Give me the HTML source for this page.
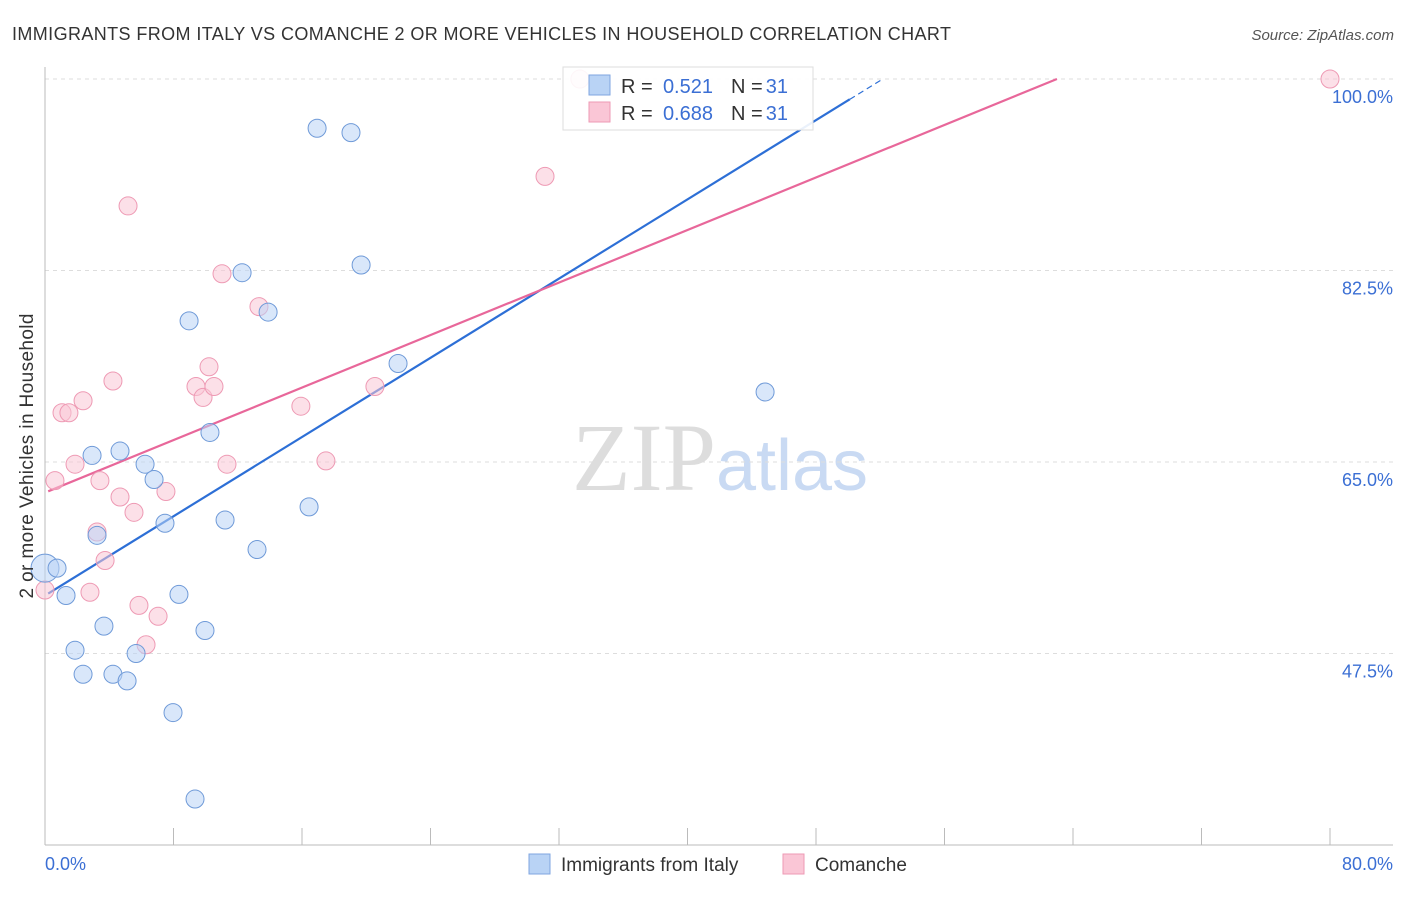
<!DOCTYPE html>
<html><head><meta charset="utf-8"><style>
body{margin:0;background:#fff;font-family:"Liberation Sans",sans-serif}
svg text{font-family:"Liberation Sans",sans-serif}
</style></head><body>
<svg id="chart" width="1406" height="892" xmlns="http://www.w3.org/2000/svg">
<text x="12" y="40" font-size="18" fill="#333" textLength="939" lengthAdjust="spacing">IMMIGRANTS FROM ITALY VS COMANCHE 2 OR MORE VEHICLES IN HOUSEHOLD CORRELATION CHART</text>
<text x="1394" y="40" font-size="15" fill="#555" font-style="italic" text-anchor="end">Source: ZipAtlas.com</text>
<text x="720" y="490" font-size="96" text-anchor="middle"><tspan fill="#ddd" font-family="Liberation Serif">ZIP</tspan><tspan fill="#c9daf3" font-size="72">atlas</tspan></text>
<g id="grid"></g><g id="axes"></g><g id="lines"></g><g id="pts"></g>
<text transform="translate(33,456) rotate(-90)" font-size="19" fill="#333" text-anchor="middle" textLength="285" lengthAdjust="spacing">2 or more Vehicles in Household</text>
<g>
<rect x="563" y="67" width="250" height="63" fill="#fff" fill-opacity="0.9" stroke="#ddd"/>
<rect x="589" y="75" width="21" height="20" fill="#b9d3f5" stroke="#7fa6e0"/>
<rect x="589" y="102" width="21" height="20" fill="#fac6d6" stroke="#ee9ab4"/>
<text x="621" y="93" font-size="20" fill="#333">R =</text>
<text x="713" y="93" font-size="20" fill="#3b6fd4" text-anchor="end">0.521</text>
<text x="731" y="93" font-size="20" fill="#333">N =</text>
<text x="788" y="93" font-size="20" fill="#3b6fd4" text-anchor="end">31</text>
<text x="621" y="120" font-size="20" fill="#333">R =</text>
<text x="713" y="120" font-size="20" fill="#3b6fd4" text-anchor="end">0.688</text>
<text x="731" y="120" font-size="20" fill="#333">N =</text>
<text x="788" y="120" font-size="20" fill="#3b6fd4" text-anchor="end">31</text>
</g>
<g>
<rect x="529" y="854" width="21" height="20" fill="#b9d3f5" stroke="#7fa6e0"/>
<text x="561" y="871" font-size="19" fill="#333">Immigrants from Italy</text>
<rect x="783" y="854" width="21" height="20" fill="#fac6d6" stroke="#ee9ab4"/>
<text x="815" y="871" font-size="19" fill="#333">Comanche</text>
</g>
</svg>
<script>
const blueX=[0,0.75,1.31,1.87,2.37,2.93,3.24,3.67,4.23,4.67,5.11,5.67,6.23,6.79,7.47,7.97,8.34,8.97,9.34,9.96,10.27,11.21,12.27,13.2,13.89,16.44,16.94,19.05,19.68,21.98,44.83];
const blueY=[55.3,55.3,52.8,47.8,45.6,65.6,58.3,50.0,45.6,66.0,45.0,47.5,64.8,63.4,59.4,42.1,52.9,77.9,34.2,49.6,67.7,59.7,82.3,57.0,78.7,60.9,95.5,95.1,83.0,74.0,71.4];
const pinkX=[0,0.62,1.06,1.49,1.87,2.37,2.8,3.24,3.42,3.74,4.23,4.67,5.17,5.54,5.85,6.29,7.04,7.53,9.4,9.84,10.21,10.52,11.02,11.33,13.32,15.93,17.49,20.54,31.13,33.3,80];
const pinkY=[53.3,63.3,69.5,69.5,64.8,70.6,53.1,58.6,63.3,56.0,72.4,61.8,88.4,60.4,51.9,48.3,50.9,62.3,71.9,70.9,73.7,71.9,82.2,64.8,79.2,70.1,65.1,71.9,91.1,100,100];
const blueTrend=[52.8,0.905];
const pinkTrend=[62.2,0.6];
const yTicks=[100,82.5,65,47.5];
const NS="http://www.w3.org/2000/svg";
const sx=v=>45+v*(1285/80), sy=v=>79+(100-v)*(191.5/17.5);
function mk(t,a,p){const e=document.createElementNS(NS,t);for(const k in a)e.setAttribute(k,a[k]);document.getElementById(p).appendChild(e);return e;}
yTicks.forEach(t=>{
 const l=mk('line',{x1:45,x2:1393,y1:sy(t),y2:sy(t),stroke:'#ddd','stroke-dasharray':'4,4'},'grid');
 
 
 const tx=mk('text',{x:1393,y:sy(t)+24,'font-size':18,fill:'#3b6fd4','text-anchor':'end'},'grid');
 tx.textContent=t.toFixed(1)+'%';
 
 
});
mk('line',{x1:45,x2:45,y1:67,y2:845,stroke:'#bbb'},'axes');
mk('line',{x1:45,x2:1393,y1:845,y2:845,stroke:'#bbb'},'axes');
for(let i=1;i<=10;i++){const t=mk('line',{x1:sx(i*8),x2:sx(i*8),y1:828,y2:845,stroke:'#bbb'},'axes');}
[[0,'0.0%','start',45],[80,'80.0%','end',1393]].forEach(d=>{const t=mk('text',{x:d[3],y:870,'font-size':18,fill:'#3b6fd4','text-anchor':d[2]},'axes');t.textContent=d[1];});
function trend(tr,x0,x1,col,dashEnd){
 const f=x=>tr[0]+tr[1]*x;
 const l=mk('line',{x1:sx(x0),y1:sy(f(x0)),x2:sx(x1),y2:sy(f(x1)),stroke:col,'stroke-width':2.2},'lines');
 
 
 if(dashEnd){const xd=(100-tr[0])/tr[1];const d=mk('line',{x1:sx(x1),y1:sy(f(x1)),x2:sx(xd),y2:sy(100),stroke:col,'stroke-width':1.2,'stroke-dasharray':'6,4'},'lines');}
}
trend(blueTrend,0.2,50.1,'#2d6fd6',true);
trend(pinkTrend,0.2,(100-pinkTrend[0])/pinkTrend[1],'#e8679a',false);
function pts(X,Y,fill,stroke,name){X.forEach((x,i)=>{const r=(i===0&&name==='blue-point')?14:9;const c=mk('circle',{cx:sx(x),cy:sy(Y[i]),r:r,fill:fill,'fill-opacity':0.55,stroke:stroke,'stroke-width':1},'pts');});}
pts(pinkX,pinkY,'#fac6d6','#ee9ab4','pink-point');
pts(blueX,blueY,'#b9d3f5','#6f9ad8','blue-point');
</script>
</body></html>
